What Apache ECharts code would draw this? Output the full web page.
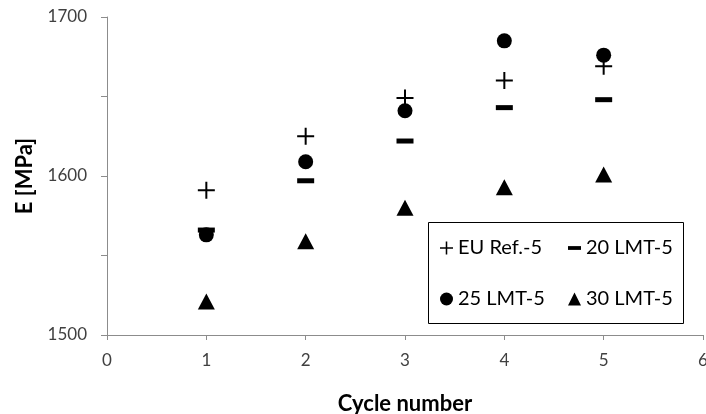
<!DOCTYPE html>
<html>
<head>
<meta charset="utf-8">
<script src="https://cdn.jsdelivr.net/npm/echarts@6/dist/echarts.min.js"></script>
<style>
  html, body { margin: 0; padding: 0; background: #fff; }
  #chart { width: 706px; height: 414px; }
</style>
</head>
<body>
<div id="chart"></div>
<script>
// Elastic modulus per loading cycle for four mixtures
const cycles = [1, 2, 3, 4, 5];
const euRef5 = [1591, 1625, 1649, 1660, 1669];
const lmt20 = [1566, 1597, 1622, 1643, 1648];
const lmt25 = [1563, 1609, 1641, 1685, 1676];
const lmt30 = [1521, 1559, 1580, 1593, 1601];
const seriesNames = ['EU Ref.-5', '20 LMT-5', '25 LMT-5', '30 LMT-5'];
const yTickLabels = ['1500', '1600', '1700'];

const FONT = 'Lato, "Open Sans", sans-serif';
const PLUS = 'path://M0,7.5 L17,7.5 L17,9.5 L0,9.5 Z M7.5,0 L9.5,0 L9.5,17 L7.5,17 Z';
const DASH = 'path://M0,0 L12,0 L12,3.5 L0,3.5 Z';

function pairs(values) {
  return cycles.map((c, i) => [c, values[i]]);
}

const chart = echarts.init(document.getElementById('chart'), null, { renderer: 'canvas' });

const legendText = { fontFamily: FONT, fontSize: 20, color: '#000' };
const markStyle = { color: '#000', opacity: 1 };

chart.setOption({
  backgroundColor: '#ffffff',
  animation: false,
  textStyle: { fontFamily: FONT },
  grid: { left: 107, right: 3, top: 17, bottom: 79, containLabel: false, outerBoundsMode: 'none' },
  xAxis: {
    type: 'value',
    min: 0, max: 6, interval: 1,
    name: 'Cycle number',
    nameLocation: 'middle',
    nameGap: 58,
    nameTextStyle: { fontFamily: FONT, fontWeight: 'bold', fontSize: 22, color: '#000' },
    axisLine: { show: true, lineStyle: { color: '#8c8c8c', width: 1 } },
    axisTick: { show: true, inside: false, length: 5, lineStyle: { color: '#8c8c8c' } },
    axisLabel: { fontFamily: FONT, fontSize: 17, color: '#404040', margin: 17, hideOverlap: false },
    splitLine: { show: false }
  },
  yAxis: {
    type: 'value',
    min: 1500, max: 1700, interval: 50,
    name: 'E [MPa]',
    nameLocation: 'middle',
    nameGap: 71,
    nameTextStyle: { fontFamily: FONT, fontWeight: 'bold', fontSize: 22, color: '#000' },
    axisLine: { show: true, lineStyle: { color: '#8c8c8c', width: 1 } },
    axisTick: { show: true, inside: false, length: 6, lineStyle: { color: '#8c8c8c' } },
    axisLabel: {
      fontFamily: FONT, fontSize: 17, color: '#404040', margin: 20,
      formatter: v => (yTickLabels.indexOf(String(v)) >= 0 ? String(v) : '')
    },
    splitLine: { show: false }
  },
  legend: [
    {
      data: [seriesNames[0], seriesNames[2]],
      orient: 'vertical',
      left: 440, top: 238,
      padding: 0,
      itemWidth: 13, itemHeight: 13,
      itemGap: 31,
      symbolKeepAspect: true,
      textStyle: legendText
    },
    {
      data: [{ name: seriesNames[1], icon: DASH }, seriesNames[3]],
      orient: 'vertical',
      left: 568, top: 238,
      padding: 0,
      itemWidth: 13, itemHeight: 13,
      itemGap: 31,
      symbolKeepAspect: true,
      textStyle: legendText
    }
  ],
  graphic: [
    {
      type: 'rect',
      z: 0,
      shape: { x: 428.5, y: 222.5, width: 255, height: 101 },
      style: { fill: '#ffffff', stroke: '#000000', lineWidth: 1 }
    }
  ],
  series: [
    {
      name: seriesNames[0], type: 'scatter', data: pairs(euRef5),
      symbol: PLUS, symbolSize: 17, symbolKeepAspect: true,
      itemStyle: markStyle
    },
    {
      name: seriesNames[1], type: 'scatter', data: pairs(lmt20),
      symbol: 'rect', symbolSize: [17, 5],
      itemStyle: markStyle
    },
    {
      name: seriesNames[2], type: 'scatter', data: pairs(lmt25),
      symbol: 'circle', symbolSize: 15,
      itemStyle: markStyle
    },
    {
      name: seriesNames[3], type: 'scatter', data: pairs(lmt30),
      symbol: 'triangle', symbolSize: [17, 16],
      itemStyle: markStyle
    }
  ]
});
</script>
</body>
</html>
